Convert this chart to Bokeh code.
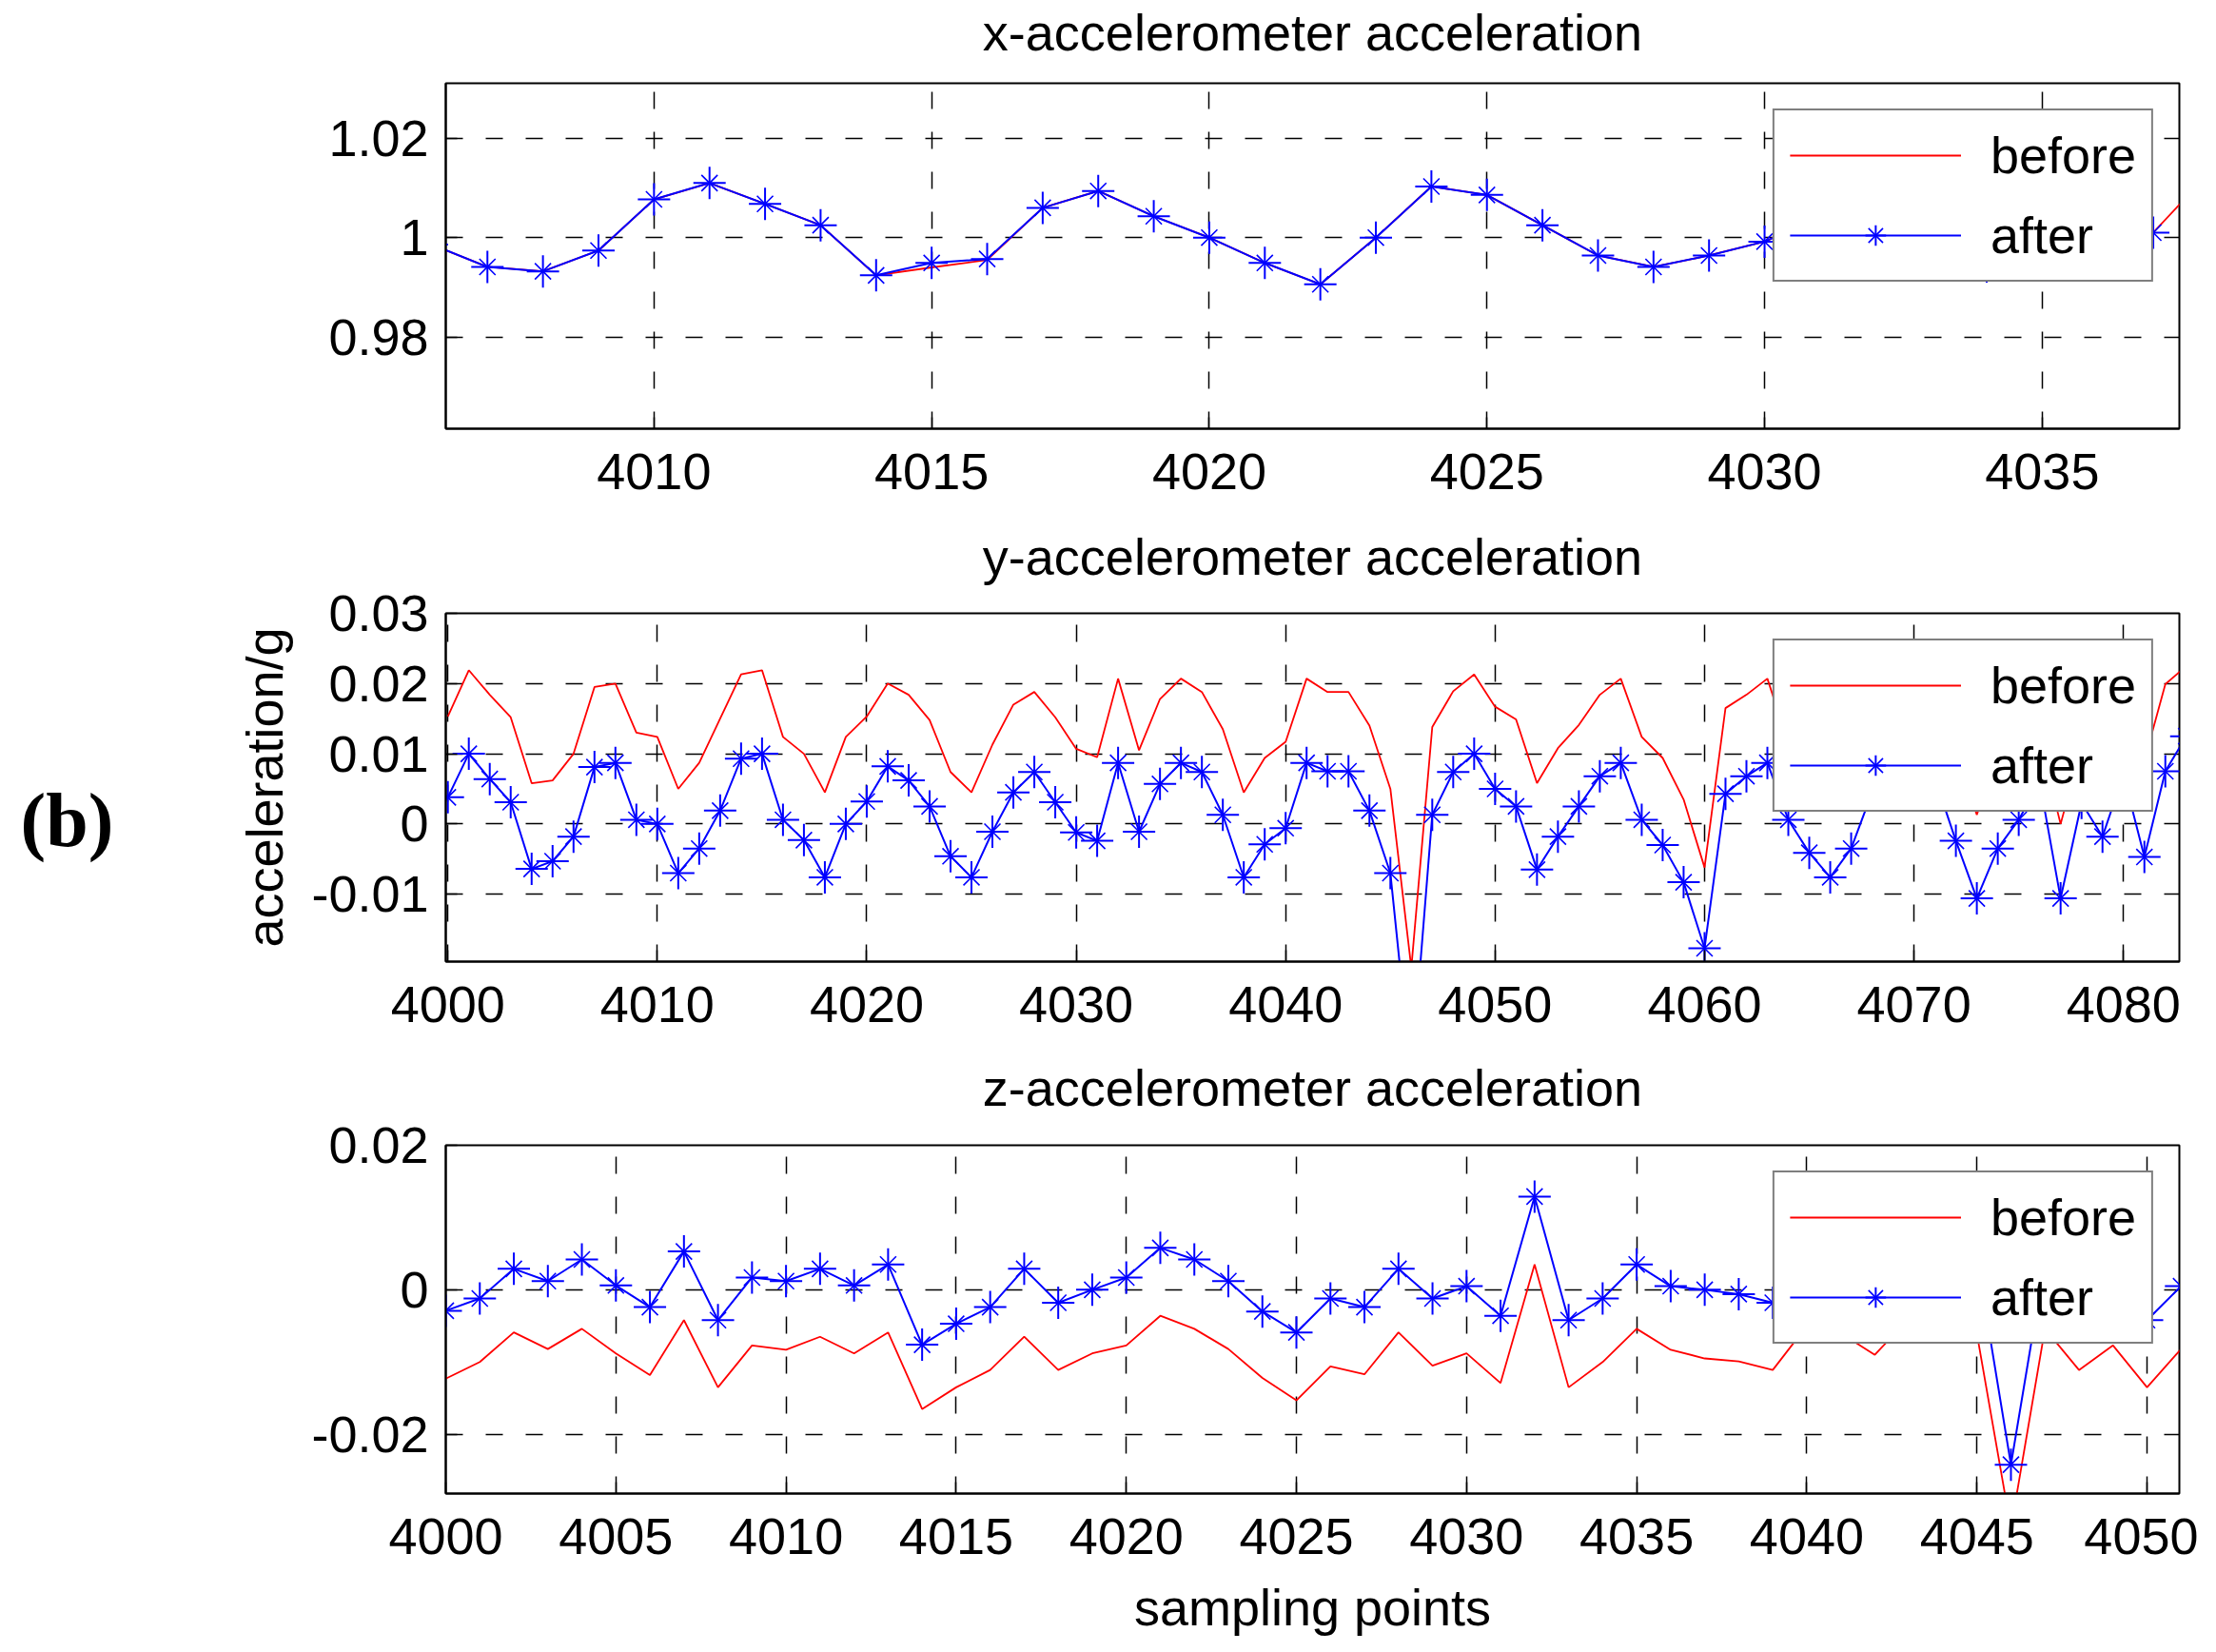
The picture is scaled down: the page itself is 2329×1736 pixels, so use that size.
from bokeh.plotting import figure
from bokeh.models import Range1d, FixedTicker, Legend, LegendItem, LinearAxis
from bokeh.layouts import column, row
from bokeh.core.properties import value
from bokeh.embed import file_html
from bokeh.resources import INLINE

# ---------------- data ----------------
# x-accelerometer
x_acc_before_x = list(range(4006, 4039))
x_acc_before = [0.9986, 0.9941, 0.9932, 0.9974, 1.0077, 1.0110, 1.0068, 1.0025, 0.9924, 0.9940,
                0.9955, 1.0060, 1.0094, 1.0043, 1.0000, 0.9949, 0.9906, 1.0000, 1.0103, 1.0086,
                1.0025, 0.9964, 0.9941, 0.9964, 0.9992, 1.0040, 1.0075, 1.0030, 0.9942, 0.9960,
                0.9990, 1.0010, 1.0130]
x_acc_after_x = list(range(4006, 4038))
x_acc_after = [0.9986, 0.9941, 0.9932, 0.9974, 1.0077, 1.0110, 1.0068, 1.0025, 0.9924, 0.9949,
               0.9957, 1.0060, 1.0094, 1.0043, 1.0000, 0.9949, 0.9906, 1.0000, 1.0103, 1.0086,
               1.0025, 0.9964, 0.9941, 0.9964, 0.9992, 1.0040, 1.0075, 1.0030, 0.9942, 0.9960,
               0.9990, 1.0010]

# y-accelerometer
y_acc_x = list(range(4000, 4084))
y_acc_before = [0.0153, 0.0219, 0.0184, 0.0152, 0.0058, 0.0062, 0.0100, 0.0195, 0.0200, 0.0130,
                0.0124, 0.0050, 0.0087, 0.0150, 0.0213, 0.0219, 0.0124, 0.0100, 0.0045, 0.0124,
                0.0153, 0.0200, 0.0184, 0.0148, 0.0074, 0.0045, 0.0113, 0.0170, 0.0188, 0.0152,
                0.0107, 0.0095, 0.0207, 0.0105, 0.0178, 0.0207, 0.0188, 0.0135, 0.0045, 0.0094,
                0.0117, 0.0207, 0.0188, 0.0188, 0.0140, 0.0050, -0.0205, 0.0138, 0.0189, 0.0213,
                0.0167, 0.0149, 0.0058, 0.0108, 0.0141, 0.0184, 0.0207, 0.0124, 0.0094, 0.0035,
                -0.0062, 0.0165, 0.0184, 0.0207, 0.0115, 0.0080, 0.0060, 0.0120, 0.0190, 0.0255,
                0.0200, 0.0140, 0.0100, 0.0013, 0.0100, 0.0160, 0.0120, 0.0000, 0.0110, 0.0150,
                0.0080, 0.0090, 0.0199, 0.0225]
y_acc_after = [0.0038, 0.0100, 0.0064, 0.0031, -0.0064, -0.0053, -0.0018, 0.0081, 0.0087, 0.0006,
               0.0000, -0.0070, -0.0035, 0.0019, 0.0093, 0.0100, 0.0006, -0.0023, -0.0076, 0.0000,
               0.0032, 0.0082, 0.0062, 0.0025, -0.0046, -0.0076, -0.0011, 0.0045, 0.0074, 0.0031,
               -0.0012, -0.0024, 0.0087, -0.0011, 0.0057, 0.0087, 0.0074, 0.0013, -0.0076, -0.0029,
               -0.0006, 0.0087, 0.0075, 0.0075, 0.0019, -0.0070, -0.0360, 0.0013, 0.0074, 0.0100,
               0.0050, 0.0025, -0.0065, -0.0018, 0.0025, 0.0068, 0.0087, 0.0006, -0.0030, -0.0083,
               -0.0177, 0.0043, 0.0068, 0.0087, 0.0006, -0.0041, -0.0076, -0.0035, 0.0045, 0.0080,
               0.0095, 0.0065, -0.0024, -0.0106, -0.0035, 0.0006, 0.0060, -0.0106, 0.0030, -0.0018,
               0.0070, -0.0047, 0.0075, 0.0125]

# z-accelerometer
z_acc_x = list(range(4000, 4052))
z_acc_before = [-0.0123, -0.0100, -0.0059, -0.0082, -0.0054, -0.0088, -0.0118, -0.0042, -0.0135, -0.0077,
                -0.0083, -0.0065, -0.0088, -0.0059, -0.0165, -0.0135, -0.0111, -0.0065, -0.0111, -0.0088,
                -0.0077, -0.0036, -0.0054, -0.0082, -0.0122, -0.0153, -0.0106, -0.0117, -0.0059, -0.0105,
                -0.0088, -0.0129, 0.0035, -0.0135, -0.0100, -0.0054, -0.0083, -0.0095, -0.0099, -0.0111,
                -0.0050, -0.0060, -0.0090, -0.0040, -0.0070, -0.0061, -0.0330, -0.0054, -0.0111, -0.0077,
                -0.0135, -0.0082]
z_acc_after = [-0.0029, -0.0012, 0.0029, 0.0012, 0.0042, 0.0006, -0.0024, 0.0053, -0.0042, 0.0017,
               0.0012, 0.0029, 0.0006, 0.0035, -0.0076, -0.0047, -0.0024, 0.0029, -0.0018, 0.0000,
               0.0017, 0.0058, 0.0042, 0.0012, -0.0030, -0.0059, -0.0012, -0.0024, 0.0029, -0.0012,
               0.0005, -0.0036, 0.0129, -0.0042, -0.0012, 0.0035, 0.0005, 0.0000, -0.0006, -0.0018,
               -0.0010, 0.0010, -0.0020, 0.0015, -0.0010, 0.0045, -0.0242, 0.0040, -0.0020, 0.0010,
               -0.0042, 0.0005]

titles = ["x-accelerometer acceleration", "y-accelerometer acceleration", "z-accelerometer acceleration"]
x_ticks = [[4010, 4015, 4020, 4025, 4030, 4035],
           [4000, 4010, 4020, 4030, 4040, 4050, 4060, 4070, 4080],
           [4000, 4005, 4010, 4015, 4020, 4025, 4030, 4035, 4040, 4045, 4050]]
y_ticks = [[0.98, 1.0, 1.02],
           [-0.01, 0.0, 0.01, 0.02, 0.03],
           [-0.02, 0.0, 0.02]]
y_tick_labels = [["0.98", "1", "1.02"],
                 ["-0.01", "0", "0.01", "0.02", "0.03"],
                 ["-0.02", "0", "0.02"]]
series_labels = ["before", "after"]
panel_tag = "(b)"
y_label = "acceleration/g"
x_label = "sampling points"

# ---------------- styling ----------------
FONT = "Liberation Sans"
FS = "54px"
RED = "#ff0000"
BLUE = "#0000ff"

x_ranges = [(4006.25, 4037.47), (3999.9, 4082.67), (4000.0, 4050.95)]
y_ranges = [(0.9615, 1.0311), (-0.0196, 0.0300), (-0.0282, 0.0200)]
frame_h = [363, 366, 366]
border_top = [82, 106, 105]
border_bottom = [88, 88, 162]
title_gap = [24, 30, 31]          # gap between frame top and the panel title
LEFT_W = 200


def style_axis(axis):
    axis.axis_line_width = 2
    axis.axis_line_color = "black"
    axis.major_tick_in = 12
    axis.major_tick_out = 0
    axis.major_tick_line_width = 1.5
    axis.major_tick_line_color = "black"
    axis.minor_tick_line_color = None
    axis.major_label_text_font = FONT
    axis.major_label_text_font_size = FS
    axis.major_label_text_color = "black"
    axis.axis_label_text_font = FONT
    axis.axis_label_text_font_size = FS
    axis.axis_label_text_font_style = "normal"
    axis.axis_label_text_color = "black"


def make_panel(i, bx, by, ax, ay):
    p = figure(frame_width=1822, frame_height=frame_h[i],
               min_border_left=468 - LEFT_W, min_border_right=20,
               min_border_top=border_top[i], min_border_bottom=border_bottom[i],
               x_range=Range1d(*x_ranges[i]), y_range=Range1d(*y_ranges[i]),
               output_backend="svg", toolbar_location=None,
               background_fill_color="white", border_fill_color="white")

    p.outline_line_color = "black"
    p.outline_line_width = 2

    style_axis(p.below[0])
    style_axis(p.left[0])
    p.below[0].ticker = FixedTicker(ticks=x_ticks[i])
    p.left[0].ticker = FixedTicker(ticks=y_ticks[i])
    p.below[0].major_label_overrides = {t: str(t) for t in x_ticks[i]}
    p.left[0].major_label_overrides = dict(zip(y_ticks[i], y_tick_labels[i]))
    p.below[0].major_label_standoff = 26
    p.left[0].major_label_standoff = 18

    # panel title carried by a tick-less axis above the frame
    top_axis = LinearAxis(ticker=FixedTicker(ticks=[]))
    style_axis(top_axis)
    top_axis.axis_line_color = None
    top_axis.major_tick_in = 0
    top_axis.major_label_standoff = 0
    top_axis.axis_label = titles[i]
    top_axis.axis_label_standoff = title_gap[i]
    p.add_layout(top_axis, "above")

    for g in (p.xgrid[0], p.ygrid[0]):
        g.grid_line_color = "black"
        g.grid_line_dash = "18 24"
        g.grid_line_width = 1.5

    rb = p.line(bx, by, line_color=RED, line_width=1.8)
    ra = p.line(ax, ay, line_color=BLUE, line_width=2)
    rc = p.scatter(ax, ay, marker="cross", size=34, line_color=BLUE, line_width=2)
    rx = p.scatter(ax, ay, marker="x", size=24, line_color=BLUE, line_width=1.6)

    legend = Legend(items=[LegendItem(label=series_labels[0], renderers=[rb]),
                           LegendItem(label=series_labels[1], renderers=[ra, rc, rx])],
                    location="top_right", margin=27, padding=16, spacing=22,
                    glyph_width=180, glyph_height=54, label_height=54, label_width=150,
                    label_standoff=31, label_text_font=FONT, label_text_font_size=FS,
                    label_text_color="black",
                    border_line_color="black", border_line_width=2,
                    background_fill_color="white", background_fill_alpha=1.0)
    p.add_layout(legend)
    return p


p1 = make_panel(0, x_acc_before_x, x_acc_before, x_acc_after_x, x_acc_after)
p2 = make_panel(1, y_acc_x, y_acc_before, y_acc_x, y_acc_after)
p3 = make_panel(2, z_acc_x, z_acc_before, z_acc_x, z_acc_after)

p2.left[0].axis_label = y_label
p2.left[0].axis_label_standoff = 16
p3.below[0].axis_label = x_label
p3.below[0].axis_label_standoff = 23

# narrow strip on the left carrying the panel tag "(b)"
total_h = sum(border_top) + sum(frame_h) + sum(border_bottom)
tag = figure(width=LEFT_W, height=total_h, x_range=Range1d(0, LEFT_W), y_range=Range1d(total_h, 0),
             output_backend="svg", toolbar_location=None, min_border=0,
             x_axis_location=None, y_axis_location=None,
             background_fill_color="white", border_fill_color="white")
tag.outline_line_color = None
tag.xgrid.visible = False
tag.ygrid.visible = False
tag.text(x=[70], y=[861], text=[panel_tag], text_font=value("Liberation Serif"),
         text_font_size="80px", text_font_style="bold", text_align="center",
         text_baseline="middle", text_color="black")

layout = row(tag, column(p1, p2, p3, spacing=0), spacing=0)
open("out.html", "w").write(file_html(layout, INLINE))
